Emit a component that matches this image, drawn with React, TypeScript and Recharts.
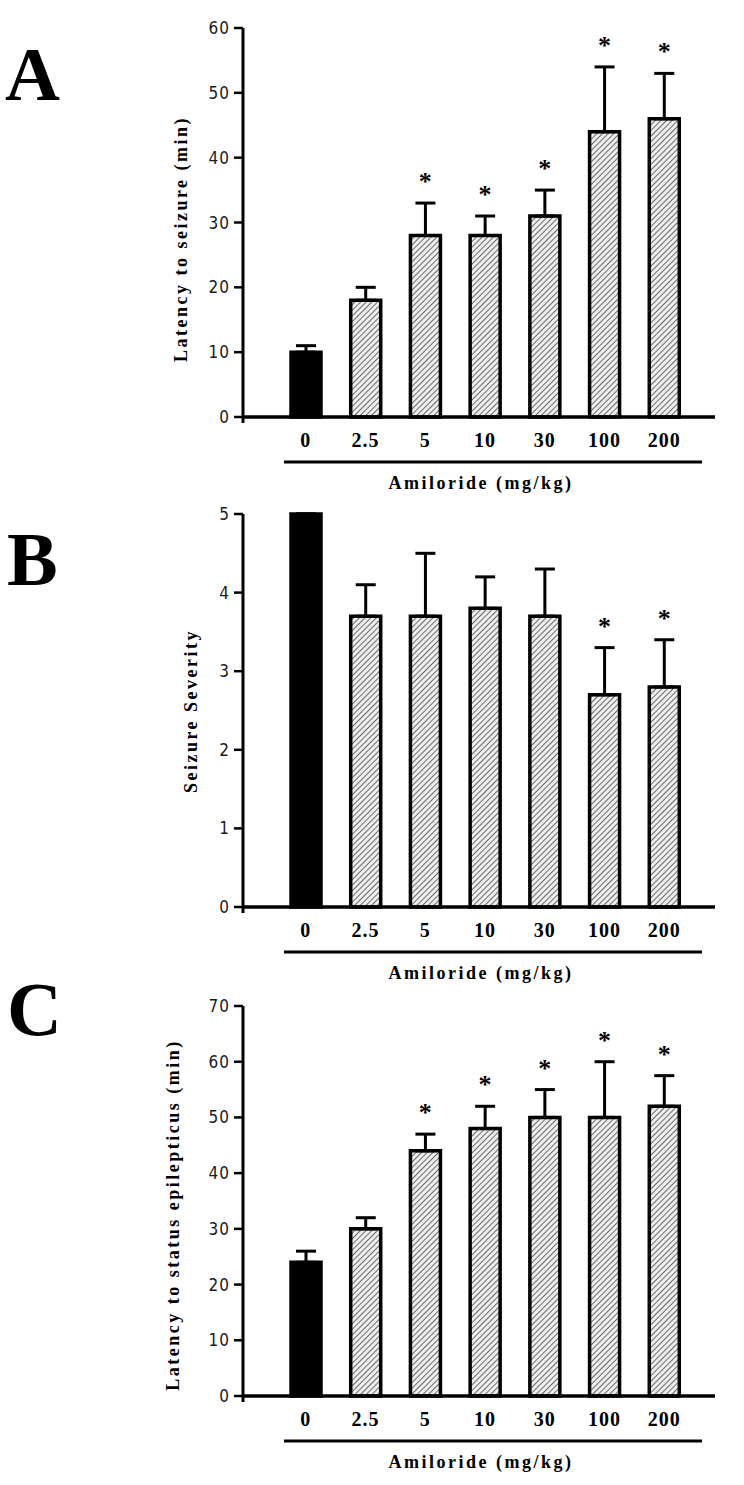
import { BarChart, Bar, XAxis, YAxis, ErrorBar, Cell, ReferenceDot } from 'recharts';

const doses = ['0', '2.5', '5', '10', '30', '100', '200'];

const latencyMeans = [10, 18, 28, 28, 31, 44, 46];
const latencyErrs = [1, 2, 5, 3, 4, 10, 7];
const latencySig = [false, false, true, true, true, true, true];
const latencyTicks = [0, 10, 20, 30, 40, 50, 60];

const severityMeans = [5, 3.7, 3.7, 3.8, 3.7, 2.7, 2.8];
const severityErrs = [0, 0.4, 0.8, 0.4, 0.6, 0.6, 0.6];
const severitySig = [false, false, false, false, false, true, true];
const severityTicks = [0, 1, 2, 3, 4, 5];

const statusMeans = [24, 30, 44, 48, 50, 50, 52];
const statusErrs = [2, 2, 3, 4, 5, 10, 5.5];
const statusSig = [false, false, true, true, true, true, true];
const statusTicks = [0, 10, 20, 30, 40, 50, 60, 70];

const serif = "'Liberation Serif', 'Times New Roman', 'DejaVu Serif', serif";
const narrow = "'Liberation Sans Narrow', 'DejaVu Sans Condensed', 'Liberation Sans', sans-serif";

const DoseTick = (p: any) => (
  <text
    x={p.x}
    y={p.y + 23}
    textAnchor="middle"
    dominantBaseline="central"
    fontFamily={serif}
    fontWeight="bold"
    fontSize={20}
    letterSpacing={1}
    fill="#000"
  >
    {p.payload.value}
  </text>
);

// significance marker, drawn ~25px above the top of the error bar
const Star = (p: any) => (
  <text x={p.cx} y={p.cy - 13} textAnchor="middle" fontFamily={serif} fontWeight="bold" fontSize={26} fill="#000">
    *
  </text>
);

function Panel(props: {
  top: number;
  plotTop: number;
  plotH: number;
  means: number[];
  errs: number[];
  sig: boolean[];
  ticks: number[];
  title: string;
  titleX: number;
  titleY: number;
}) {
  const { top, plotTop, plotH, means, errs, sig, ticks, title, titleX, titleY } = props;
  const rows = doses.map((d, i) => ({ dose: d, mean: means[i], err: [0, errs[i]] }));
  const height = plotTop + plotH + 80;

  return (
    <div style={{ position: 'absolute', left: 0, top }}>
      <BarChart width={744} height={height} data={rows} margin={{ top: plotTop, right: 29, bottom: 5, left: 183 }}>
        <defs>
          <pattern id={`hatch-${top}`} width="4" height="4" patternUnits="userSpaceOnUse" patternTransform="rotate(45)">
            <rect width="4" height="4" fill="#eeeeee" />
            <line x1="0" y1="0" x2="0" y2="4" stroke="#222" strokeWidth="1.3" />
          </pattern>
        </defs>
        <XAxis
          dataKey="dose"
          padding={{ left: 33, right: 21 }}
          axisLine={{ stroke: '#000', strokeWidth: 3.5 }}
          tickLine={false}
          tickSize={0}
          tickMargin={0}
          interval={0}
          height={75}
          tick={DoseTick}
          label={(lp: any) => {
            const y0 = lp.viewBox ? lp.viewBox.y : 0;
            return (
              <g>
                <line x1={284} x2={702} y1={y0 + 45} y2={y0 + 45} stroke="#000" strokeWidth={3} />
                <text
                  x={481}
                  y={y0 + 66}
                  textAnchor="middle"
                  dominantBaseline="central"
                  fontFamily={serif}
                  fontWeight="bold"
                  fontSize={18}
                  letterSpacing={2.5}
                  fill="#000"
                >
                  Amiloride (mg/kg)
                </text>
              </g>
            );
          }}
        />
        <YAxis
          type="number"
          domain={[0, ticks[ticks.length - 1]]}
          ticks={ticks}
          interval={0}
          width={60}
          axisLine={{ stroke: '#000', strokeWidth: 3 }}
          tickLine={{ stroke: '#000', strokeWidth: 2.5 }}
          tickSize={9}
          tickMargin={4}
          tick={{ fill: '#1a1a1a', fontSize: 17, fontFamily: narrow, letterSpacing: 1 }}
          label={() => (
            <text
              x={titleX}
              y={titleY - top}
              transform={`rotate(-90 ${titleX} ${titleY - top})`}
              textAnchor="middle"
              dominantBaseline="central"
              fontFamily={serif}
              fontWeight="bold"
              fontSize={18}
              letterSpacing={2.5}
              fill="#000"
            >
              {title}
            </text>
          )}
        />
        <Bar dataKey="mean" barSize={30} stroke="#000" strokeWidth={3.5} isAnimationActive={false}>
          {rows.map((r, i) => (
            <Cell key={r.dose} fill={i === 0 ? '#000' : `url(#hatch-${top})`} />
          ))}
          <ErrorBar dataKey="err" width={10} strokeWidth={3} stroke="#000" direction="y" />
        </Bar>
        {rows.map((r, i) =>
          sig[i] ? (
            <ReferenceDot key={`s-${r.dose}`} x={r.dose} y={means[i] + errs[i]} r={0} ifOverflow="visible" shape={Star} />
          ) : null
        )}
      </BarChart>
    </div>
  );
}

export default function App() {
  return (
    <div style={{ position: 'absolute', left: 0, top: 0, width: 744, height: 1485, background: '#fff' }}>
      <Panel
        top={0}
        plotTop={28}
        plotH={389}
        means={latencyMeans}
        errs={latencyErrs}
        sig={latencySig}
        ticks={latencyTicks}
        title="Latency to seizure (min)"
        titleX={181}
        titleY={239}
      />
      <Panel
        top={490}
        plotTop={24}
        plotH={393}
        means={severityMeans}
        errs={severityErrs}
        sig={severitySig}
        ticks={severityTicks}
        title="Seizure Severity"
        titleX={191}
        titleY={711}
      />
      <Panel
        top={985}
        plotTop={21}
        plotH={390}
        means={statusMeans}
        errs={statusErrs}
        sig={statusSig}
        ticks={statusTicks}
        title="Latency to status epilepticus (min)"
        titleX={173}
        titleY={1215}
      />
      <svg width={744} height={1485} style={{ position: 'absolute', left: 0, top: 0, pointerEvents: 'none' }}>
        <g fontFamily={serif} fontWeight="bold" fontSize={76} fill="#000">
          <text x={5} y={100}>A</text>
          <text x={7} y={585}>B</text>
          <text x={7} y={1035}>C</text>
        </g>
        <g stroke="#000" strokeWidth={3}>
          <line x1={243} x2={243} y1={417} y2={423} />
          <line x1={243} x2={243} y1={907} y2={913} />
          <line x1={243} x2={243} y1={1396} y2={1402} />
        </g>
      </svg>
    </div>
  );
}
